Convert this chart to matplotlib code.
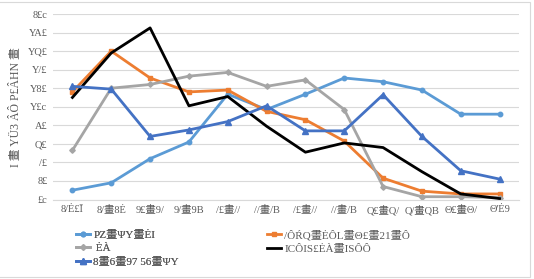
import matplotlib
matplotlib.use("Agg")
import matplotlib.pyplot as plt
from matplotlib.patches import Rectangle

plt.rcParams["font.family"] = ["Liberation Serif", "Noto Sans CJK SC", "DejaVu Sans"]

# 数据
categories = ["8/Ė£Ī", "8/畫8Ė", "9£畫9/", "9/畫9B", "/£畫//", "//畫/B",
              "/£畫//", "//畫/B", "Q£畫Q/", "Q/畫QB", "Θ£畫Θ/", "Θ'Ė9"]
y_ticks = [0, 2, 4, 6, 8, 10, 12, 14, 16, 18, 20]
y_tick_labels = ["£c", "8£", "/£", "Q£", "A£", "Y£c", "Y8£", "Y/£", "YQ£", "YA£", "8£c"]
y_label = "I 畫 YÜ3 ÂÔ P£ÂHN 畫"

names = ["PZ畫ΨY畫ĖI", "/ÔŔQ畫ĖÔL畫Θ£畫21畫Ô", " ĖÀ", "ICÔIS£ĖÀ畫ISÔÔ", "8畫6畫97 56畫ΨY"]
light_blue = [1.0, 1.8, 4.4, 6.2, 11.35, 9.7, 11.35, 13.1, 12.7, 11.8, 9.2, 9.2]
orange = [11.6, 16.0, 13.1, 11.6, 11.8, 9.5, 8.6, 6.3, 2.3, 0.9, 0.6, 0.6]
gray = [5.3, 12.0, 12.4, 13.3, 13.7, 12.2, 12.9, 9.7, 1.4, 0.3, 0.3, 0.2]
black = [11.0, 15.8, 18.5, 10.1, 11.1, 7.9, 5.1, 6.1, 5.6, 3.0, 0.6, 0.1]
dark_blue = [12.2, 11.9, 6.8, 7.5, 8.4, 10.1, 7.4, 7.4, 11.3, 6.8, 3.1, 2.2]

W, H = 534, 279
fig = plt.figure(figsize=(W / 100, H / 100), dpi=100)
ax = fig.add_axes([53 / W, 1 - 199.5 / H, (519 - 53) / W, (199.5 - 14) / H])

x = range(len(categories))
styles = [
    (light_blue, "#5B9BD5", "o", 3.2),
    (orange, "#ED7D31", "s", 3.2),
    (gray, "#A5A5A5", "D", 2.8),
    (black, "#000000", None, 0),
    (dark_blue, "#4472C4", "^", 3.8),
]
lines = []
for (vals, color, marker, ms), name in zip(styles, names):
    (ln,) = ax.plot(x, vals, color=color, lw=2.0, marker=marker, markersize=ms, label=name)
    lines.append(ln)

ax.set_xlim(-0.5, len(categories) - 0.5)
ax.set_ylim(0, 20)
ax.set_yticks(y_ticks)
ax.set_yticklabels(y_tick_labels, fontsize=7.5, color="#595959")
ax.set_xticks(list(x))
ax.set_xticklabels(categories, fontsize=7.5, color="#595959")
ax.tick_params(length=0, pad=4)
ax.grid(axis="y", color="#D9D9D9", lw=0.8)
ax.set_axisbelow(True)
for s in ["top", "right", "left"]:
    ax.spines[s].set_visible(False)
ax.spines["bottom"].set_color("#D9D9D9")
ax.set_ylabel(y_label, fontsize=8.5, color="#595959", labelpad=4)

# 图例：两列，按行排列
leg_kw = dict(loc="upper left", frameon=False, fontsize=8, handlelength=1.3,
              handletextpad=0.3, labelspacing=0.35, borderpad=0, labelcolor="#595959")
leg1 = fig.legend([lines[0], lines[2], lines[4]], [names[0], names[2], names[4]],
                  bbox_to_anchor=(70 / W, 1 - 224 / H), **leg_kw)
fig.legend([lines[1], lines[3]], [names[1], names[3]],
           bbox_to_anchor=(261 / W, 1 - 224 / H), **leg_kw)
fig.add_artist(leg1)

fig.add_artist(Rectangle((-0.01, 2 / H), 530 / W + 0.01, 1 - 4 / H, transform=fig.transFigure,
                         fill=False, edgecolor="#D9D9D9", lw=0.8))

fig.savefig("out.png", dpi=100)
